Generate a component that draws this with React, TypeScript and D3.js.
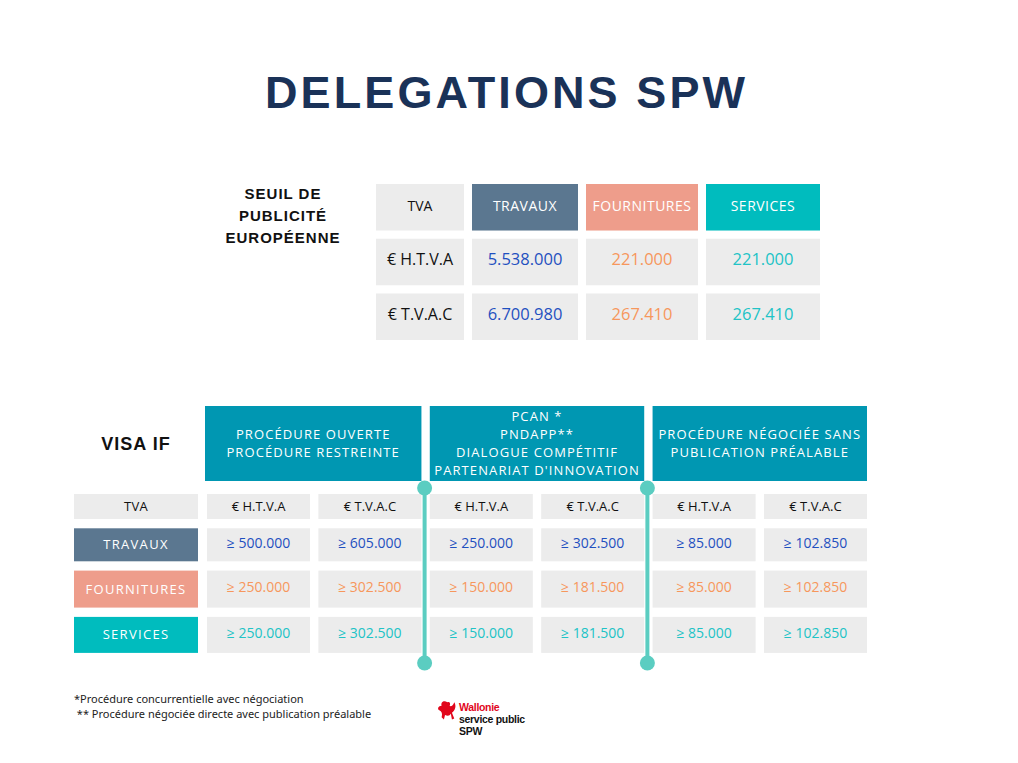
import React from 'react';
import * as d3 from 'd3';

// ---- data ----
const title = 'DELEGATIONS SPW';
const seuilLabel = ['SEUIL DE', 'PUBLICITÉ', 'EUROPÉENNE'];
const categories = ['TRAVAUX', 'FOURNITURES', 'SERVICES'];
const vatTypes = ['€ H.T.V.A', '€ T.V.A.C'];
const seuilTravaux = [5538000, 6700980];
const seuilFournitures = [221000, 267410];
const seuilServices = [221000, 267410];

const visaLabel = 'VISA IF';
const procedures = [
  ['PROCÉDURE OUVERTE', 'PROCÉDURE RESTREINTE'],
  ['PCAN *', 'PNDAPP**', 'DIALOGUE COMPÉTITIF', "PARTENARIAT D'INNOVATION"],
  ['PROCÉDURE NÉGOCIÉE SANS', 'PUBLICATION PRÉALABLE'],
];
const visaTravaux = [500000, 605000, 250000, 302500, 85000, 102850];
const visaFournitures = [250000, 302500, 150000, 181500, 85000, 102850];
const visaServices = [250000, 302500, 150000, 181500, 85000, 102850];

const footnotes = [
  '*Procédure concurrentielle avec négociation',
  ' ** Procédure négociée directe avec publication préalable',
];
const logoLines = ['Wallonie', 'service public', 'SPW'];

// ---- styles ----
const W = 1018;
const H = 763;
const catColor: Record<string, string> = { TRAVAUX: '#5b7790', FOURNITURES: '#ee9d8b', SERVICES: '#00bcbe' };
const numColor: Record<string, string> = { TRAVAUX: '#1f50c0', FOURNITURES: '#f7975c', SERVICES: '#20c3c6' };
const cellFill = '#ececec';
const headTeal = '#0097b2';
const lineColor = '#5bcdc1';
const cellFont = "'Open Sans', 'Noto Sans', sans-serif";
const boldFont = "'Liberation Sans', Arial, sans-serif";

const be = d3.formatLocale({ decimal: ',', thousands: '.', grouping: [3], currency: ['€', ''] });
const fmt = be.format(',d');

// top table layout
const topCols = ['TVA', ...categories];
const topColWidths = [88, 106, 112, 114];
const topGap = 8;
const topX0 = 376;
const topColX = topColWidths.map((_, i) => topX0 + d3.sum(topColWidths.slice(0, i)) + i * topGap);
const xTop = d3.scaleOrdinal<string, number>().domain(topCols).range(topColX);
const wTop = d3.scaleOrdinal<string, number>().domain(topCols).range(topColWidths);
const yTop = d3.scaleBand<string>().domain(['head', ...vatTypes]).range([184, 340]).paddingInner(0.15);
const topValues: Record<string, number[]> = { TRAVAUX: seuilTravaux, FOURNITURES: seuilFournitures, SERVICES: seuilServices };

// bottom table layout
const colKeys = procedures.flatMap((_, p) => vatTypes.map((v) => `${p}|${v}`));
const xBot = d3.scaleBand<string>().domain(colKeys).range([207, 867]).paddingInner(0.075);
const bw = xBot.bandwidth();
const botRows = ['TVA', ...categories];
const botRowH = [25, 33, 37, 36];
const botRowGap = 9.3;
const botY0 = 494;
const yBotArr = botRowH.map((_, i) => botY0 + d3.sum(botRowH.slice(0, i)) + i * botRowGap);
const yBot = d3.scaleOrdinal<string, number>().domain(botRows).range(yBotArr);
const hBot = d3.scaleOrdinal<string, number>().domain(botRows).range(botRowH);
const labelX = 74;
const labelW = 124;
const headY = 406;
const headH = 75;
const botValues: Record<string, number[]> = { TRAVAUX: visaTravaux, FOURNITURES: visaFournitures, SERVICES: visaServices };

export default function App() {
  const bandH = yTop.bandwidth();
  const dividers = procedures.slice(1).map((_, i) => {
    const left = xBot(`${i}|${vatTypes[1]}`)! + bw;
    const right = xBot(`${i + 1}|${vatTypes[0]}`)!;
    return (left + right) / 2 - 1;
  });
  const lineTop = 488;
  const lineBottom = 663;

  return (
    <svg width={W} height={H} viewBox={`0 0 ${W} ${H}`}
      style={{ position: 'absolute', left: 0, top: 0, display: 'block', background: '#ffffff' }}>
      {/* title */}
      <text x={265} y={108} fontFamily={boldFont} fontWeight={700} fontSize={45} fill="#1a3258"
        textLength={480} lengthAdjust="spacing">{title}</text>

      {/* seuil label */}
      <g fontFamily={boldFont} fontWeight={700} fontSize={15} fill="#111" textAnchor="middle" letterSpacing={1}>
        {seuilLabel.map((l, i) => (
          <text key={l} x={283} y={198.5 + i * 22}>{l}</text>
        ))}
      </g>

      {/* top table */}
      <g fontFamily={cellFont} fontSize={14} textAnchor="middle">
        {topCols.map((c) => (
          <g key={c}>
            <rect x={xTop(c)} y={yTop('head')} width={wTop(c)} height={bandH}
              fill={c === 'TVA' ? cellFill : catColor[c]} />
            <text x={xTop(c) + wTop(c) / 2} y={yTop('head')! + bandH / 2 + 4}
              fill={c === 'TVA' ? '#111' : '#ffffff'} letterSpacing={c === 'TVA' ? 0 : 0.5}>{c}</text>
          </g>
        ))}
        {vatTypes.map((v, r) => (
          <g key={v}>
            {topCols.map((c) => (
              <g key={c}>
                <rect x={xTop(c)} y={yTop(v)} width={wTop(c)} height={bandH} fill={cellFill} />
                <text x={xTop(c) + wTop(c) / 2} y={yTop(v)! + bandH / 2 + 3}
                  fontSize={c === 'TVA' ? 16 : 16.5} fill={c === 'TVA' ? '#111' : numColor[c]}>
                  {c === 'TVA' ? v : fmt(topValues[c][r])}
                </text>
              </g>
            ))}
          </g>
        ))}
      </g>

      {/* visa label */}
      <text x={136} y={449.5} fontFamily={boldFont} fontWeight={700} fontSize={18} fill="#111"
        textAnchor="middle" letterSpacing={1}>{visaLabel}</text>

      {/* procedure headers */}
      <g fontFamily={cellFont} fontSize={13} fill="#ffffff" textAnchor="middle" letterSpacing={1.1}>
        {procedures.map((lines, p) => {
          const x0 = xBot(`${p}|${vatTypes[0]}`)! - (p === 0 ? 2 : 0);
          const x1 = xBot(`${p}|${vatTypes[1]}`)! + bw;
          const lh = 17.7;
          const startY = headY + headH / 2 - ((lines.length - 1) * lh) / 2 + 4.5;
          return (
            <g key={p}>
              <rect x={x0} y={headY} width={x1 - x0} height={headH} fill={headTeal} />
              {lines.map((l, i) => (
                <text key={l} x={(x0 + x1) / 2} y={startY + i * lh}>{l}</text>
              ))}
            </g>
          );
        })}
      </g>

      {/* bottom rows */}
      <g fontFamily={cellFont} textAnchor="middle">
        {botRows.map((row) => {
          const y = yBot(row);
          const h = hBot(row);
          const isHead = row === 'TVA';
          return (
            <g key={row}>
              <rect x={labelX} y={y} width={labelW} height={h} fill={isHead ? cellFill : catColor[row]} />
              <text x={labelX + labelW / 2} y={y + h / 2 + 4.5} fontSize={13} letterSpacing={isHead ? 0.3 : 1.3}
                fill={isHead ? '#111' : '#ffffff'}>{row}</text>
              {colKeys.map((k, ci) => (
                <g key={k}>
                  <rect x={xBot(k)} y={y} width={bw} height={h} fill={cellFill} />
                  <text x={xBot(k)! + bw / 2} y={y + h / 2 + (isHead ? 4.5 : 3)} fontSize={isHead ? 13 : 14}
                    fill={isHead ? '#111' : numColor[row]}>
                    {isHead ? k.split('|')[1] : `≥ ${fmt(botValues[row][ci])}`}
                  </text>
                </g>
              ))}
            </g>
          );
        })}
      </g>

      {/* dividers */}
      {dividers.map((x, i) => (
        <g key={i} fill={lineColor}>
          <line x1={x} x2={x} y1={lineTop} y2={lineBottom} stroke={lineColor} strokeWidth={4} />
          <circle cx={x} cy={lineTop} r={7.5} />
          <circle cx={x} cy={lineBottom} r={7.5} />
        </g>
      ))}

      {/* footnotes */}
      <g fontFamily="'Noto Sans', sans-serif" fontSize={11} fill="#222">
        {footnotes.map((f, i) => (
          <text key={i} x={74} y={703 + i * 14.5} style={{ whiteSpace: 'pre' }}>{f}</text>
        ))}
      </g>

      {/* logo */}
      <g transform="translate(437,700) scale(1.15)">
        <path d="M9 2 C6 0 3 2 4 5 C1 5 0 8 2 9 C4 10 5 12 4 15 L6 17 L7 13 C9 14 11 14 12 12 L13 17 L15 16 L13 11 C16 9 17 5 15 2 C14 5 12 6 11 5 C12 3 11 1 9 2 Z"
          fill="#e1061b" />
      </g>
      <g fontFamily={boldFont} fontWeight={700} fontSize={10.5} letterSpacing={-0.3}>
        {logoLines.map((l, i) => (
          <text key={l} x={459} y={711 + i * 11.8} fill={i === 0 ? '#e1061b' : '#111'}>{l}</text>
        ))}
      </g>
    </svg>
  );
}
